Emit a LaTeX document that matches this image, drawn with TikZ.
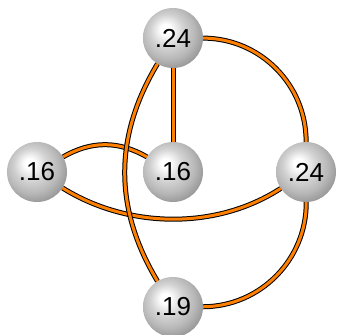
\documentclass[tikz,border=0pt]{standalone}
\usepackage{fontspec}
\setmainfont{Liberation Sans}
\usetikzlibrary{positioning}

\pgfdeclareradialshading{sphere}{\pgfpoint{-7bp}{8bp}}{%
  color(0bp)=(white); color(4bp)=(white); color(14bp)=(black!18);
  color(22bp)=(black!28); color(30bp)=(black!42); color(36bp)=(black!58);
  color(50bp)=(black!70)}

\begin{document}
\begin{tikzpicture}[
    x=1pt, y=1pt,
    every node/.style={font=\fontsize{26}{26}\selectfont},
    ball/.style={circle, minimum size=60pt, inner sep=0pt, shading=sphere},
    link/.style={draw=black, line width=1pt, double=orange, double distance=3pt},
]
    \useasboundingbox (0,0) rectangle (338,335);

    % Balls
    \node[ball] (top) at (173,297) {.24};
    \node[ball] (left) at (37,163) {.16};
    \node[ball] (mid) at (173,163) {.16};
    \node[ball] (right) at (306,163) {.24};
    \node[ball] (bottom) at (173,28) {.19};

    % Links
    \draw[link] (top) -- (mid);
    \draw[link] (top) to[bend left=45] (right);
    \draw[link] (right) to[bend left=45] (bottom);
    \draw[link] (left) to[bend left=30] (mid);
    \draw[link] (left) to[out=-32, in=-147, looseness=0.9] (right);
    \draw[link] (top) to[bend right=31] (bottom);
\end{tikzpicture}
\end{document}
